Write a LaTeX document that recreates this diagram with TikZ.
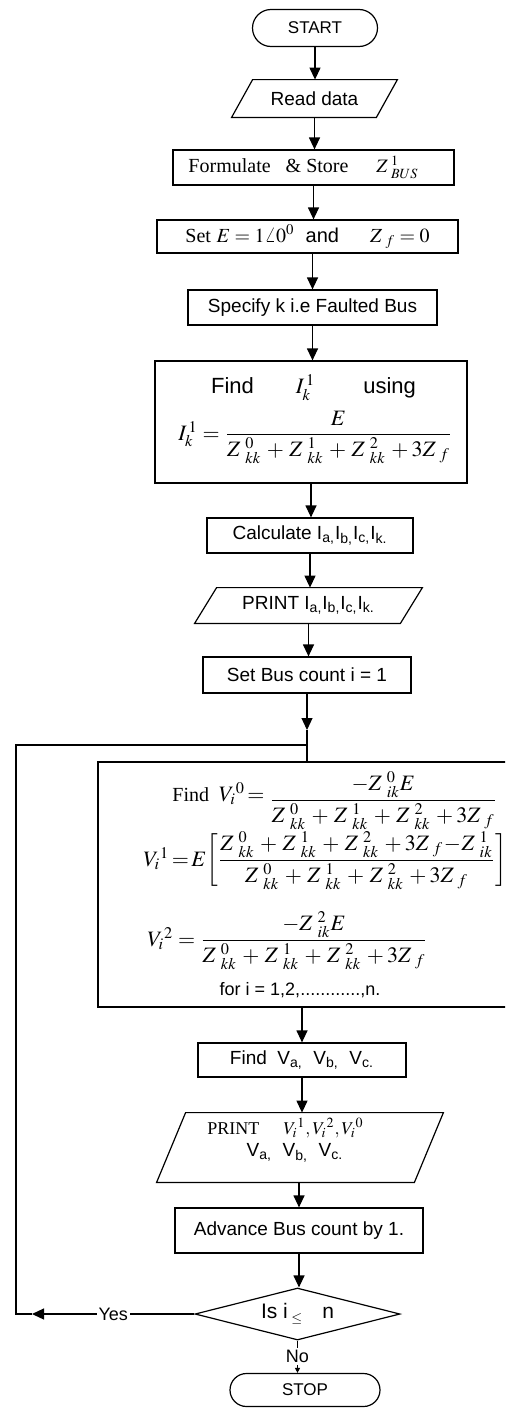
\documentclass[tikz,border=0pt]{standalone}
\usepackage{amsmath}
\usepackage{mathptmx}
\usepackage[no-math]{fontspec}
\setmainfont{Liberation Sans}
\newfontfamily\tnr{Liberation Serif}
\usetikzlibrary{shapes.geometric,shapes.misc,arrows.meta}
\newcommand{\zkk}[2]{Z\mkern4mu^{#1}_{#2}}
\newcommand{\zsum}{\zkk{0}{kk}\,+\,\zkk{1}{kk}\,+\,\zkk{2}{kk}\,+3Z\mkern3mu_{f}}
\newcommand{\fs}[1]{\fontsize{#1}{#1}\selectfont}
\newcommand{\para}[2]{\draw[line width=0.6pt] ([xshift=#2]#1.north west) -- ([xshift=#2]#1.north east)
  -- ([xshift=-#2]#1.south east) -- ([xshift=-#2]#1.south west) -- cycle;}
\begin{document}
\begin{tikzpicture}[x=0.5pt,y=-0.5pt,
  every node/.style={font=\fs{9.5}},
  box/.style={draw, line width=0.6pt, inner sep=0pt, align=center},
  term/.style={draw, rounded rectangle, line width=0.6pt, inner sep=0pt, font=\fs{8.5}},
  iobody/.style={rectangle, inner sep=0pt, align=center},
  dec/.style={draw, diamond, line width=0.6pt, inner sep=0pt, aspect=4},
  arr/.style={line width=0.6pt, -{Triangle[length=6pt,width=5.5pt]}},
  smallarr/.style={line width=0.5pt, -{Triangle[length=2.5pt,width=2.5pt]}},
  loopline/.style={line width=0.9pt},
  lbl/.style={fill=white, inner sep=1pt, font=\fs{9}},
  txt/.style={inner sep=0pt}
]
\useasboundingbox (0,0) rectangle (505,1408);
\clip (0,0) rectangle (505,1408);

\node[term, minimum width=62.5pt, minimum height=18.5pt] (start) at (315,28) {START};
\node[iobody, minimum width=72pt, minimum height=18.5pt] (read) at (314.5,98.5) {Read data};
\para{read}{5.25pt}
\node[box, minimum width=140.5pt, minimum height=17.5pt] (form) at (313.5,167.5)
  {{\tnr\fs{10}Formulate \ \ \& Store}\hspace{14pt}$Z\mkern3mu^{1}_{BUS}$\hspace{10pt}};
\node[box, minimum width=150.5pt, minimum height=16.5pt, font=\fs{10}] (sete) at (307.5,236.5)
  {{\tnr Set} $E = 1\angle 0^{0}$ \ and \ \quad $Z\mkern3mu_{f} = 0$};
\node[box, minimum width=124.5pt, minimum height=17.5pt] (spec) at (312.5,307.5) {Specify k i.e Faulted Bus};
\node[box, minimum width=156pt, minimum height=61pt] (findi) at (311,422) {};
\node[txt, font=\fs{11}] (findiA) at (313.5,388) {Find\hspace{21pt}$I^{\,1}_{k}$\hspace{24pt}using};
\node[txt, font=\fs{11}, anchor=base west] (findiB) at (178,440)
  {$I^{\,1}_{k} = \dfrac{E}{\zsum}$};
\node[box, minimum width=103pt, minimum height=17.5pt] (calc) at (310,535.5)
  {Calculate I\textsubscript{a,}I\textsubscript{b,}I\textsubscript{c,}I\textsubscript{k.}};
\node[iobody, minimum width=102.5pt, minimum height=17.5pt] (printi) at (308.5,605.5)
  {PRINT I\textsubscript{a,}I\textsubscript{b,}I\textsubscript{c,}I\textsubscript{k.}};
\para{printi}{5.5pt}
\node[box, minimum width=104pt, minimum height=18pt] (setbus) at (307,675) {Set Bus count i = 1};

\node[box, minimum width=208.5pt, minimum height=122.5pt] (big) at (306.5,884.5) {};
\node[txt, font=\fs{11}, anchor=base west] (eqA) at (172,806)
  {\raisebox{2.5pt}{{\tnr\fs{10}Find}\hspace{5pt}$V_{i}{}^{0}\mkern-2mu=$}$\;\dfrac{-\zkk{0}{ik}E}{\zsum}$};
\node[txt, font=\fs{11}, anchor=base west] (eqB) at (143,866)
  {$V_{i}{}^{1} \mkern-2mu=\mkern-2mu E\mkern-2mu\left[\dfrac{\zsum \mkern-2mu-\mkern-2mu \zkk{1}{ik}}{\zsum}\right]$};
\node[txt, font=\fs{11}, anchor=base west] (eqC) at (147,946)
  {$V_{i}{}^{2} = \dfrac{-\zkk{2}{ik}E}{\zsum}$};
\node[txt, font=\fs{9}] (forline) at (300,990) {for i = 1,2,............,n.};

\node[box, minimum width=104pt, minimum height=17pt] (findv) at (302,1060)
  {Find \ V\textsubscript{a,} \ V\textsubscript{b,} \ V\textsubscript{c.}};
\node[iobody, minimum width=128.5pt, minimum height=34.5pt] (printv) at (300,1147.5) {};
\para{printv}{7.25pt}
\node[txt, anchor=west, font=\fs{9}] (printvA) at (207,1128)
  {{\tnr PRINT}\hspace{12pt}$V_{i}{}^{1}, V_{i}{}^{2}, V_{i}{}^{0}$};
\node[txt] (printvB) at (295,1153) {V\textsubscript{a,} \ V\textsubscript{b,} \ V\textsubscript{c.}};
\node[box, minimum width=124pt, minimum height=22.5pt] (adv) at (299,1230.5) {Advance Bus count by 1.};
\node[dec, minimum width=102.5pt, minimum height=26pt, font=\fs{10.5}] (dec) at (297.5,1314)
  {Is i\,\raisebox{-2pt}{\fs{7}$\leq$}\hspace{10pt}n};
\node[term, minimum width=75pt, minimum height=16.5pt] (stop) at (305,1390) {STOP};

\coordinate (tip) at (307,730);
\coordinate (join) at (307,745);
\coordinate (yesA) at (32,1314);
\coordinate (cornerB) at (16,1314);
\coordinate (cornerT) at (16,745);

\draw[arr] (start.south) -- (start.south |- read.north);
\draw[arr] (read.south) -- (read.south |- form.north);
\draw[arr] (form.south) -- (form.south |- sete.north);
\draw[arr] (spec.north |- sete.south) -- (spec.north);
\draw[arr] (spec.south) -- (spec.south |- findi.north);
\draw[arr] (findi.south) -- (findi.south |- calc.north);
\draw[arr] (calc.south) -- (calc.south |- printi.north);
\draw[arr] (printi.south) -- (printi.south |- setbus.north);
\draw[arr] (setbus.south) -- (tip);
\draw[line width=0.6pt] (tip) -- (tip |- big.north);
\draw[arr] (findv.north |- big.south) -- (findv.north);
\draw[arr] (findv.south) -- (findv.south |- printv.north);
\draw[arr] (adv.north |- printv.south) -- (adv.north);
\draw[arr] (adv.south) -- (adv.south |- dec.north);
\draw[smallarr] (dec.south) -- node[lbl] {No} (dec.south |- stop.north);
\draw[arr] (dec.west) -- node[lbl] {Yes} (yesA);
\draw[loopline] (yesA) -- (cornerB) -- (cornerT) -- (join);
\end{tikzpicture}
\end{document}
